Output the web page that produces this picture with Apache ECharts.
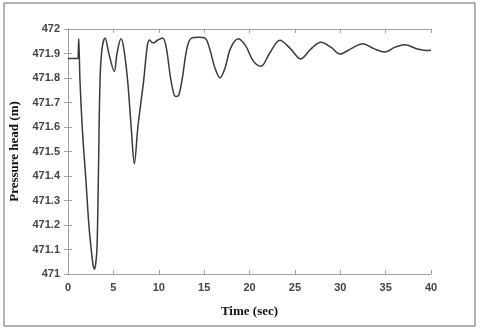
<!DOCTYPE html>
<html>
<head>
<meta charset="utf-8">
<script src="https://cdn.jsdelivr.net/npm/echarts@6/dist/echarts.min.js"></script>
<style>
  html, body { margin: 0; padding: 0; background: #fff; }
  #chart { width: 480px; height: 329px; }
</style>
</head>
<body>
<div id="chart"></div>
<script>
// time (sec) and pressure head (m)
const timeSec = [
  0, 1.1, 1.13, 1.18, 1.24, 1.32, 1.6, 1.98, 2.3, 2.53, 2.75, 2.9, 3.05, 3.2, 3.34, 3.53, 3.75,
  4.08, 4.5, 5.1, 5.4, 5.84, 6.15, 6.57, 7.0, 7.31, 7.7, 8.34, 8.7, 8.96, 9.4, 9.9, 10.4,
  10.8, 11.3, 11.7, 11.9, 12.2, 12.6, 13.1, 13.6, 14.4, 15.1, 15.6, 16.2, 16.75, 17.3, 17.9,
  18.77, 19.6, 20.4, 21.27, 22.2, 23.36, 24.5, 25.64, 26.8, 27.88, 29.0, 29.97, 31.2, 32.5,
  33.7, 34.9, 36.0, 37.1, 38.5, 39.5, 40
]
const headM = [
  471.88, 471.88, 471.90, 471.96, 471.90, 471.79, 471.58, 471.38, 471.20, 471.11, 471.04, 471.02, 471.04, 471.11, 471.38, 471.79, 471.92,
  471.963, 471.90, 471.827, 471.90, 471.96, 471.92, 471.79, 471.58, 471.45, 471.60, 471.79, 471.92, 471.955, 471.943, 471.955, 471.963,
  471.93, 471.80, 471.73, 471.725, 471.73, 471.80, 471.92, 471.963, 471.966, 471.963, 471.92, 471.84, 471.80, 471.84, 471.92,
  471.96, 471.93, 471.87, 471.848, 471.90, 471.954, 471.92, 471.878, 471.92, 471.946, 471.925, 471.898, 471.92, 471.94,
  471.92, 471.906, 471.925, 471.936, 471.918, 471.912, 471.913
]
const xTicks = [0, 5, 10, 15, 20, 25, 30, 35, 40]
const yTicks = ['471', '471.1', '471.2', '471.3', '471.4', '471.5', '471.6', '471.7', '471.8', '471.9', '472']

const chart = echarts.init(document.getElementById('chart'))

const axisGray = '#a0a0a0'
const labelStyle = { color: '#444', fontWeight: 'bold', fontSize: 11, fontFamily: 'Arial' }

const points = timeSec.map((t, i) => [t, headM[i]])

chart.setOption({
  animation: false,
  graphic: [{
    type: 'rect',
    shape: { x: 4, y: 3, width: 471, height: 323 },
    style: { fill: 'none', stroke: '#666', lineWidth: 1 }
  }],
  grid: { left: 68, right: 49, top: 29, bottom: 55 },
  xAxis: [{
    type: 'value',
    min: 0, max: 40, interval: 5,
    name: 'Time (sec)',
    nameLocation: 'middle',
    nameGap: 31,
    nameTextStyle: { fontFamily: 'Liberation Serif', fontWeight: 'bold', fontSize: 13, color: '#111' },
    axisLine: { lineStyle: { color: axisGray } },
    axisTick: { inside: true, length: 4, lineStyle: { color: axisGray } },
    axisLabel: Object.assign({ margin: 8, formatter: v => xTicks.includes(v) ? String(v) : '' }, labelStyle),
    splitLine: { show: false }
  }, {
    type: 'value', position: 'top',
    min: 0, max: 40, interval: 5,
    axisLine: { show: true, lineStyle: { color: axisGray } },
    axisTick: { inside: true, length: 4, lineStyle: { color: axisGray } },
    axisLabel: { show: false },
    splitLine: { show: false }
  }],
  yAxis: [{
    type: 'value',
    min: 471, max: 472, interval: 0.1,
    name: 'Pressure head (m)',
    nameLocation: 'middle',
    nameGap: 44,
    nameTextStyle: { fontFamily: 'Liberation Serif', fontWeight: 'bold', fontSize: 13, color: '#111' },
    axisLine: { show: true, lineStyle: { color: axisGray } },
    axisTick: { inside: true, length: 4, lineStyle: { color: axisGray } },
    axisLabel: Object.assign({ margin: 8, formatter: v => yTicks[Math.round((v - 471) * 10)] }, labelStyle),
    splitLine: { show: false }
  }, {
    type: 'value', position: 'right',
    min: 471, max: 472, interval: 0.1,
    axisLine: { show: true, lineStyle: { color: axisGray } },
    axisTick: { inside: true, length: 4, lineStyle: { color: axisGray } },
    axisLabel: { show: false },
    splitLine: { show: false }
  }],
  series: [{
    type: 'line',
    data: points,
    symbol: 'none',
    smooth: 0.35,
    lineStyle: { color: '#3a3a3a', width: 1.5 }
  }]
})
</script>
</body>
</html>
